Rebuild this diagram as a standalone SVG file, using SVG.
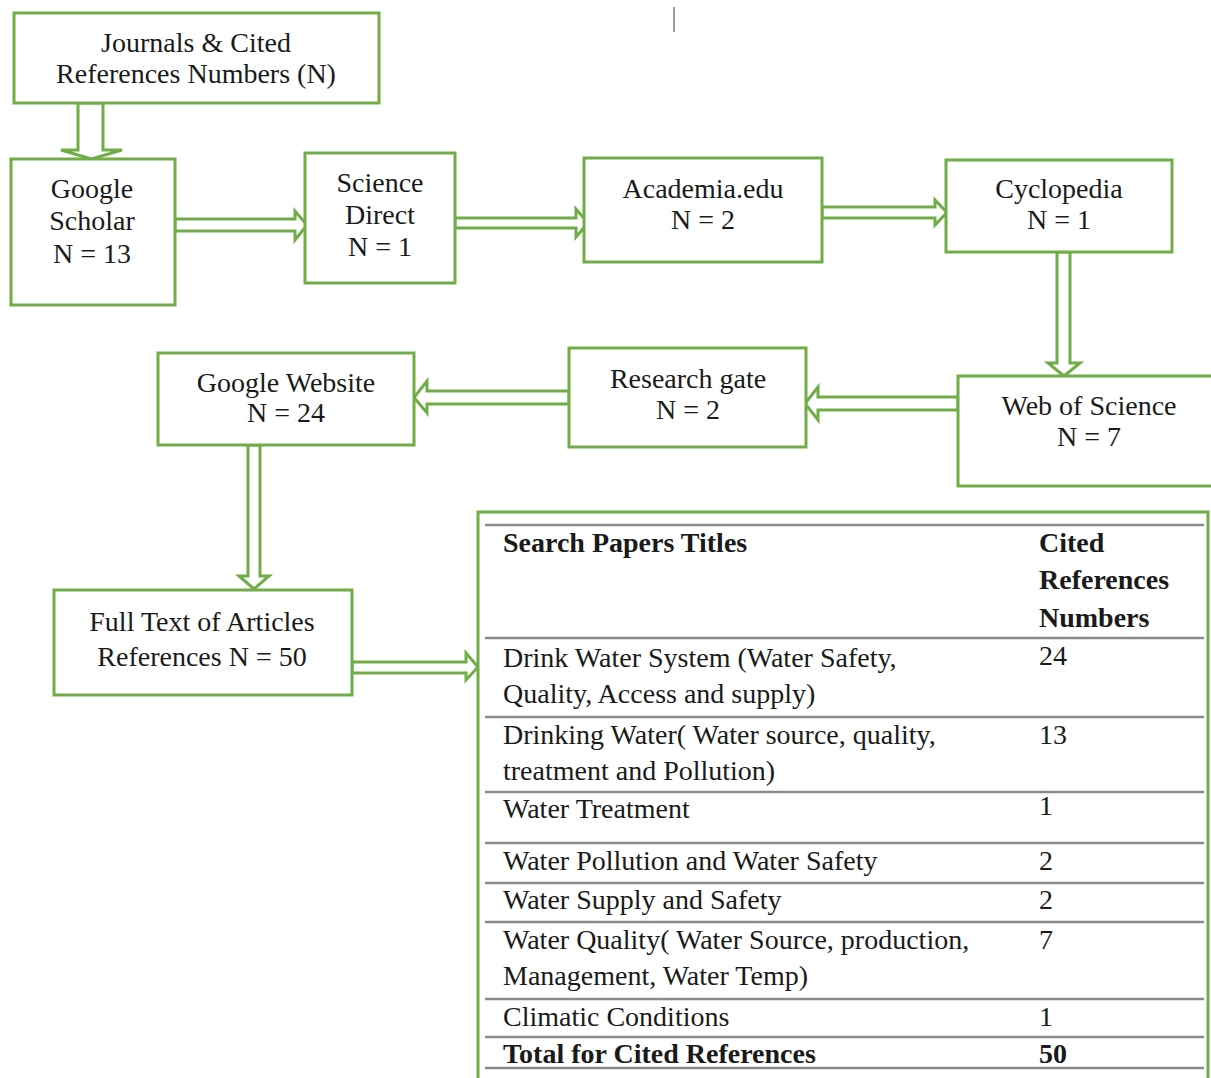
<svg xmlns="http://www.w3.org/2000/svg" width="1211" height="1078" viewBox="0 0 1211 1078">
<style>
.box{fill:#ffffff;stroke:#70AD47;stroke-width:3}
.arr{fill:#ffffff;stroke:#70AD47;stroke-width:3;stroke-linejoin:miter}
.t{font-family:"Liberation Serif","Times New Roman",serif;font-size:28px;fill:#1a1a1a}
.c{text-anchor:middle}
.b{font-weight:bold}
.rule{stroke:#8a8a8a;stroke-width:2.5}
</style>
<rect width="1211" height="1078" fill="#ffffff"/>
<line x1="674" y1="7" x2="674" y2="32" stroke="#9a9a9a" stroke-width="2"/>

<g id="connectors">
<polygon class="arr" points="78,103 78,150 61,150 91.5,159 122,150 103,150 103,103"/>
<polygon class="arr" points="175,219 295,219 295,211 307,225 295,240 295,231 175,231"/>
<polygon class="arr" points="455,218 576,218 576,209 588,223 576,237 576,228 455,228"/>
<polygon class="arr" points="822,207 935,207 935,200 947,212.5 935,225 935,218 822,218"/>
<polygon class="arr" points="1057,252 1057,363 1048,363 1064,376 1080,363 1070,363 1070,252"/>
<polygon class="arr" points="958,397 818,397 818,387 805,403.5 818,420 818,410 958,410"/>
<polygon class="arr" points="569,391 427,391 427,381 414,397.5 427,413 427,404 569,404"/>
<polygon class="arr" points="248,445 248,576 239,576 254,589 269,576 260,576 260,445"/>
<polygon class="arr" points="352,662 466,662 466,653 478,667 466,680 466,673 352,673"/>
</g>

<g id="journals">
<rect class="box" x="14" y="13" width="365" height="90"/>
<text class="t c" x="196" y="52">Journals &amp; Cited</text>
<text class="t c" x="196" y="83">References Numbers (N)</text>
</g>

<g id="google-scholar">
<rect class="box" x="11" y="159" width="164" height="146"/>
<text class="t c" x="92" y="198">Google</text>
<text class="t c" x="92" y="230">Scholar</text>
<text class="t c" x="92" y="263">N = 13</text>
</g>

<g id="science-direct">
<rect class="box" x="305" y="153" width="150" height="130"/>
<text class="t c" x="380" y="192">Science</text>
<text class="t c" x="380" y="224">Direct</text>
<text class="t c" x="380" y="256">N = 1</text>
</g>

<g id="academia">
<rect class="box" x="584" y="158" width="238" height="104"/>
<text class="t c" x="703" y="198">Academia.edu</text>
<text class="t c" x="703" y="229">N = 2</text>
</g>

<g id="cyclopedia">
<rect class="box" x="946" y="160" width="226" height="92"/>
<text class="t c" x="1059" y="198">Cyclopedia</text>
<text class="t c" x="1059" y="229">N = 1</text>
</g>

<g id="web-of-science">
<rect class="box" x="958" y="376" width="270" height="110"/>
<text class="t c" x="1089" y="415">Web of Science</text>
<text class="t c" x="1089" y="446">N = 7</text>
</g>

<g id="research-gate">
<rect class="box" x="569" y="348" width="237" height="99"/>
<text class="t c" x="688" y="388">Research gate</text>
<text class="t c" x="688" y="419">N = 2</text>
</g>

<g id="google-website">
<rect class="box" x="158" y="353" width="256" height="92"/>
<text class="t c" x="286" y="392">Google Website</text>
<text class="t c" x="286" y="422">N = 24</text>
</g>

<g id="full-text">
<rect class="box" x="54" y="590" width="298" height="105"/>
<text class="t c" x="202" y="631">Full Text of Articles</text>
<text class="t c" x="202" y="666">References N = 50</text>
</g>

<g id="table">
<rect class="box" x="478" y="512" width="730" height="580"/>
<line class="rule" x1="485" y1="525" x2="1204" y2="525"/>
<line class="rule" x1="485" y1="638" x2="1204" y2="638"/>
<line class="rule" x1="485" y1="717" x2="1204" y2="717"/>
<line class="rule" x1="485" y1="792" x2="1204" y2="792"/>
<line class="rule" x1="485" y1="843" x2="1204" y2="843"/>
<line class="rule" x1="485" y1="883" x2="1204" y2="883"/>
<line class="rule" x1="485" y1="922" x2="1204" y2="922"/>
<line class="rule" x1="485" y1="999" x2="1204" y2="999"/>
<line class="rule" x1="485" y1="1037" x2="1204" y2="1037"/>
<line class="rule" x1="485" y1="1068" x2="1204" y2="1068"/>

<text class="t b" x="503" y="552">Search Papers Titles</text>
<text class="t b" x="1039" y="552">Cited</text>
<text class="t b" x="1039" y="589">References</text>
<text class="t b" x="1039" y="627">Numbers</text>

<text class="t" x="503" y="667">Drink Water System (Water Safety,</text>
<text class="t" x="503" y="703">Quality, Access and supply)</text>
<text class="t" x="1039" y="665">24</text>

<text class="t" x="503" y="744">Drinking Water( Water source, quality,</text>
<text class="t" x="503" y="780">treatment and Pollution)</text>
<text class="t" x="1039" y="744">13</text>

<text class="t" x="503" y="818">Water Treatment</text>
<text class="t" x="1039" y="815">1</text>

<text class="t" x="503" y="870">Water Pollution and Water Safety</text>
<text class="t" x="1039" y="870">2</text>

<text class="t" x="503" y="909">Water Supply and Safety</text>
<text class="t" x="1039" y="909">2</text>

<text class="t" x="503" y="949">Water Quality( Water Source, production,</text>
<text class="t" x="503" y="985">Management, Water Temp)</text>
<text class="t" x="1039" y="949">7</text>

<text class="t" x="503" y="1026">Climatic Conditions</text>
<text class="t" x="1039" y="1026">1</text>

<text class="t b" x="503" y="1063">Total for Cited References</text>
<text class="t b" x="1039" y="1063">50</text>
</g>
</svg>
